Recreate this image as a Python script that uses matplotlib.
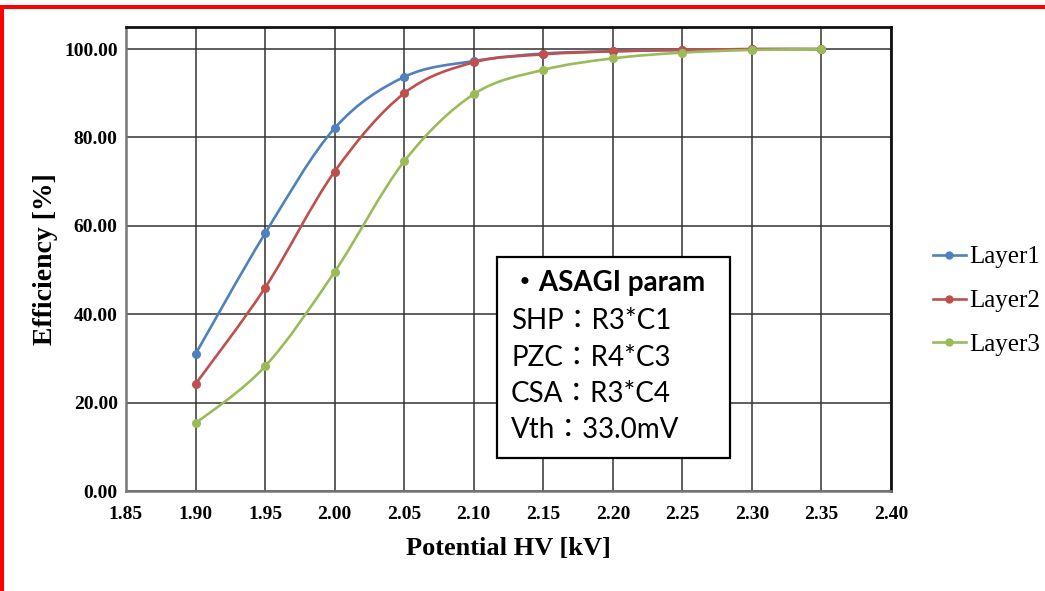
import numpy as np
import matplotlib
matplotlib.use("Agg")
import matplotlib.pyplot as plt
from matplotlib.path import Path
from matplotlib.patches import PathPatch, Rectangle

# high voltage scan, efficiency per layer
hv = [1.90, 1.95, 2.00, 2.05, 2.10, 2.15, 2.20, 2.25, 2.30, 2.35]
layer1 = [31.0, 58.3, 82.1, 93.7, 97.3, 99.0, 99.5, 99.8, 100.0, 100.0]
layer2 = [24.2, 46.0, 72.3, 90.0, 97.0, 98.8, 99.5, 99.8, 100.0, 100.0]
layer3 = [15.3, 28.2, 49.6, 74.6, 89.8, 95.3, 97.9, 99.2, 99.8, 100.0]

labels = ["Layer1", "Layer2", "Layer3"]
colors = ["#4F81BD", "#C0504D", "#9BBB59"]

x_ticks = [1.85, 1.90, 1.95, 2.00, 2.05, 2.10, 2.15, 2.20, 2.25, 2.30, 2.35, 2.40]
y_ticks = [0, 20, 40, 60, 80, 100]

param_title = "・ASAGI param"
param_lines = ["SHP：R3*C1", "PZC：R4*C3", "CSA：R3*C4", "Vth：33.0mV"]


def smooth_path(x, y):
    """
    Bezier path through the points, tangents from neighbours (spreadsheet style smoothing)
    """
    pts = np.column_stack([x, y]).astype(float)
    n = len(pts)
    verts = [pts[0]]
    codes = [Path.MOVETO]
    for i in range(n - 1):
        p0 = pts[max(i - 1, 0)]
        p1 = pts[i]
        p2 = pts[i + 1]
        p3 = pts[min(i + 2, n - 1)]
        c1 = p1 + (p2 - p0) / 6
        c2 = p2 - (p3 - p1) / 6
        verts += [c1, c2, p2]
        codes += [Path.CURVE4] * 3
    return Path(verts, codes)


serif = "Liberation Serif"
W, H = 1045, 591

fig = plt.figure(figsize=(W / 100, H / 100), dpi=100)
ax = fig.add_axes([126 / W, 1 - 491 / H, 765 / W, 464 / H])

for y, lab, col in zip([layer1, layer2, layer3], labels, colors):
    ax.add_patch(PathPatch(smooth_path(hv, y), facecolor="none", edgecolor=col, lw=1.9, zorder=3))
    ax.plot(hv, y, "o", color=col, ms=5.5, zorder=4)
    ax.plot([], [], "-o", color=col, lw=1.9, ms=5, label=lab)

ax.set_xlim(1.85, 2.40)
ax.set_ylim(0, 105)
ax.set_xticks(x_ticks)
ax.set_yticks(y_ticks)
ax.set_xticklabels(["%.2f" % v for v in x_ticks])
ax.set_yticklabels(["%.2f" % v for v in y_ticks])
ax.tick_params(length=0, labelsize=14)
ax.tick_params(axis="x", pad=11)
ax.tick_params(axis="y", pad=6)
for t in ax.get_xticklabels() + ax.get_yticklabels():
    t.set_fontfamily(serif)
    t.set_fontweight("bold")

ax.grid(True, color="#333333", lw=1.1)
ax.set_axisbelow(True)
for side in ["left", "bottom"]:
    ax.spines[side].set_color("#777777")
    ax.spines[side].set_linewidth(1.8)
for side in ["top", "right"]:
    ax.spines[side].set_color("#111111")
    ax.spines[side].set_linewidth(2.0)

ax.set_xlabel("Potential HV [kV]", fontfamily=serif, fontweight="bold", fontsize=19, labelpad=10)
ax.set_ylabel("Efficiency [%]", fontfamily=serif, fontweight="bold", fontsize=20, labelpad=4)

fig.legend(loc="center left", bbox_to_anchor=(923 / W, 1 - 301 / H), frameon=False,
           prop={"family": serif, "size": 18}, handlelength=1.3, handletextpad=0.15,
           labelspacing=0.85, borderaxespad=0)

# parameter box
fig.add_artist(Rectangle((497 / W, 1 - 458 / H), 233 / W, 201 / H, transform=fig.transFigure,
                         facecolor="white", edgecolor="black", lw=1.6, zorder=5))
box_font = ["Lato", "Noto Sans CJK JP"]
fig.text(511 / W, 1 - 283 / H, param_title, family=box_font, fontweight="bold",
         fontsize=20, va="center", ha="left", zorder=6)
for k, line in enumerate(param_lines):
    fig.text(511 / W, 1 - (321 + 36.5 * k) / H, line, family=box_font,
             fontsize=20, va="center", ha="left", zorder=6)

# red frame on top and left
fig.add_artist(Rectangle((0, 1 - 9 / H), 1, 4 / H, transform=fig.transFigure,
                         facecolor="red", edgecolor="none", zorder=7))
fig.add_artist(Rectangle((0, 0), 4 / W, 1 - 5 / H, transform=fig.transFigure,
                         facecolor="red", edgecolor="none", zorder=7))

fig.savefig("out.png", dpi=100)
